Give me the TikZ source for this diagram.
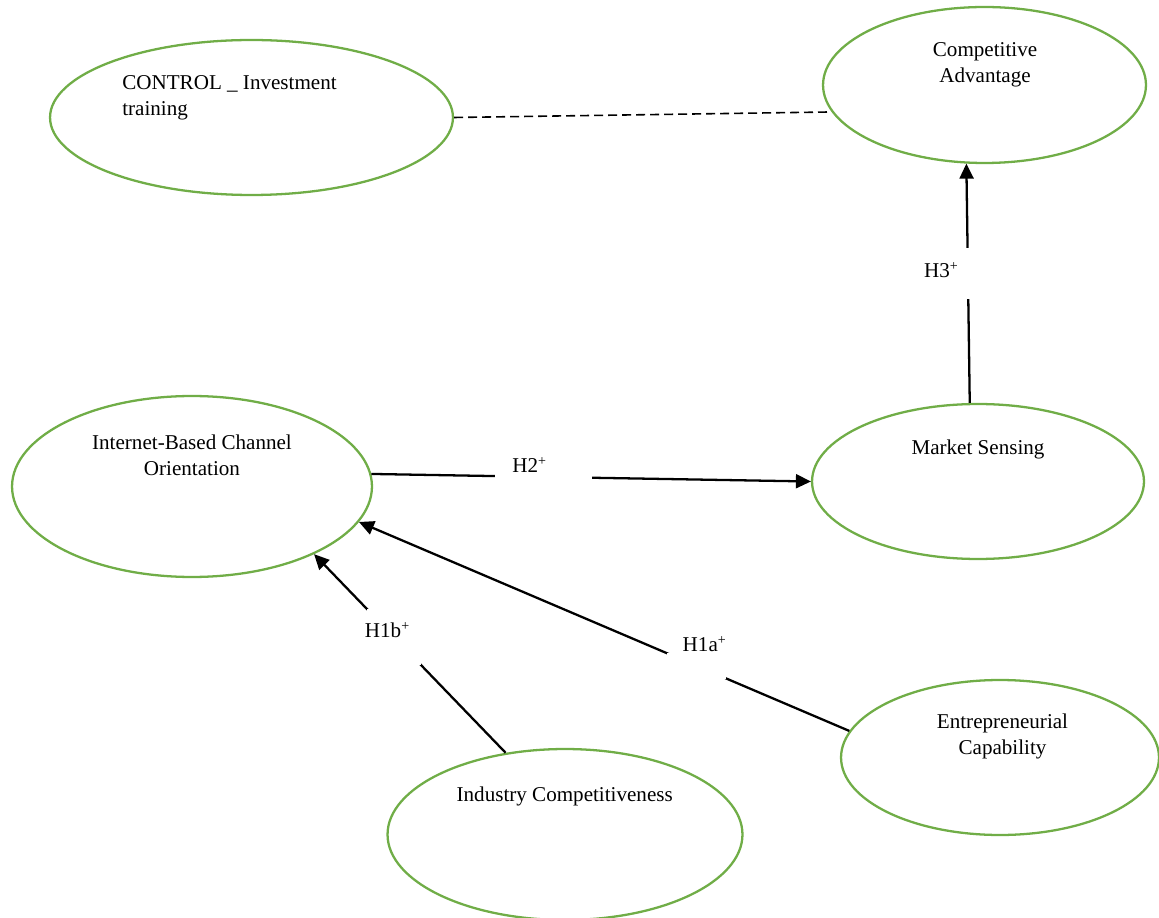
\documentclass[tikz,border=0pt]{standalone}
\usepackage{fontspec}
\setmainfont{Liberation Serif}
\usetikzlibrary{shapes.geometric, arrows.meta}
\definecolor{ovalgreen}{RGB}{112,173,71}

\begin{document}
\begin{tikzpicture}[
    x=0.02cm, y=-0.02cm,
    construct/.style={ellipse, draw=ovalgreen, line width=1.3pt, inner sep=0pt},
    caption/.style={font=\fontsize{12}{14.7}\selectfont, align=center, inner sep=0pt},
    hyp/.style={caption, anchor=base},
    gap/.style={fill=white, inner sep=0pt, outer sep=0pt},
    link/.style={line width=1.3pt},
    arrow/.style={link, -{Triangle[length=0.3cm, width=0.28cm]}}
]
\useasboundingbox (0,0) rectangle (1159,918);

% Constructs
\node[construct, minimum width=8.06cm, minimum height=3.10cm] (ctrl) at (251.5,117.5) {};
\node[construct, minimum width=6.46cm, minimum height=3.12cm] (ca) at (984.5,85) {};
\node[construct, minimum width=7.20cm, minimum height=3.62cm] (ibco) at (192,486.5) {};
\node[construct, minimum width=6.64cm, minimum height=3.10cm] (ms) at (978,481.5) {};
\node[construct, minimum width=6.36cm, minimum height=3.10cm] (ec) at (1000,757.5) {};
\node[construct, minimum width=7.10cm, minimum height=3.42cm] (ic) at (565,834.5) {};

% Construct texts
\node[caption, anchor=west, align=left] (ctrl-t) at (122,97.6) {CONTROL \_ Investment\\training};
\node[caption] (ca-t) at (985,64.6) {Competitive\\Advantage};
\node[caption] (ibco-t) at (192,455.6) {Internet-Based Channel\\Orientation};
\node[hyp] (ms-t) at (978,455) {Market Sensing};
\node[caption] (ec-t) at (1002.5,736.6) {Entrepreneurial\\Capability};
\node[hyp] (ic-t) at (564.7,801.7) {Industry Competitiveness};

% Control link
\draw[line width=0.9pt, dash pattern=on 0.18cm off 0.1cm] (ctrl.east) -- (ca.190);

% Hypotheses
\draw[arrow] (ms.96) -- node[gap, pos=0.541, minimum width=0.16cm, minimum height=1.02cm] (g3) {} (ca.257);
\draw[arrow] (ibco.4) -- node[gap, pos=0.392, minimum width=1.94cm, minimum height=0.2cm] (g2) {} (ms.west);
\draw[arrow] (ic.126) -- node[gap, pos=0.583, minimum width=1.08cm, minimum height=1.14cm] (g1b) {} (ibco.331);
\draw[arrow] (ec.170) -- node[gap, pos=0.311, minimum width=1.18cm, minimum height=0.52cm] (g1a) {} (ibco.348);

% Hypothesis labels
\node[hyp] (h3) at (941.5,278) {H3\textsuperscript{+}};
\node[hyp] (h2) at (529.7,473) {H2\textsuperscript{+}};
\node[hyp] (h1b) at (387.5,637.7) {H1b\textsuperscript{+}};
\node[hyp] (h1a) at (704.7,651.7) {H1a\textsuperscript{+}};

\end{tikzpicture}
\end{document}
